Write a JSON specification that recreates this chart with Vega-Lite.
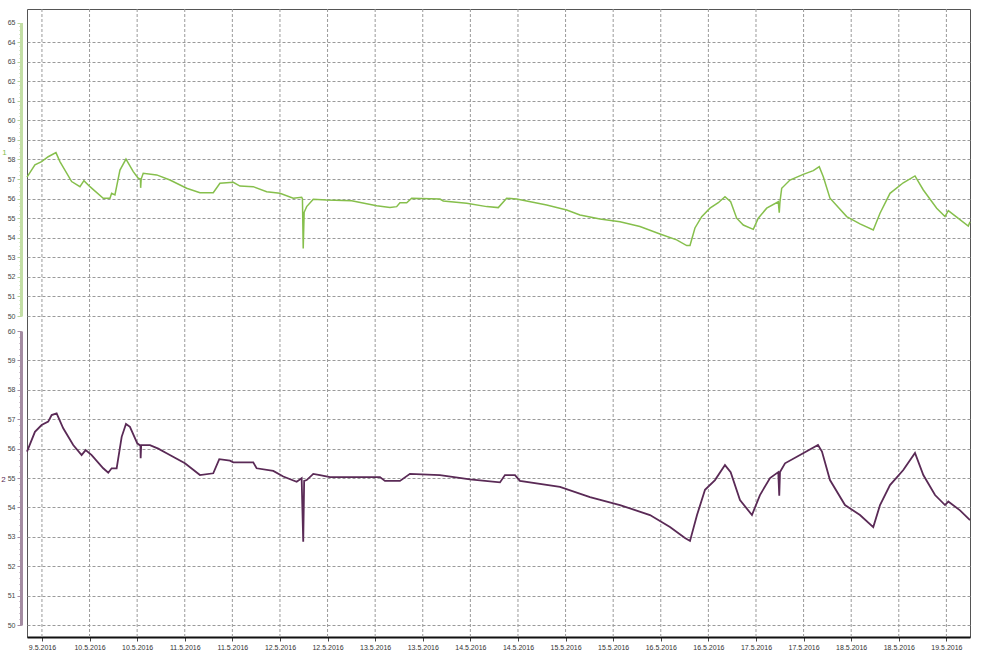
{
  "$schema": "https://vega.github.io/schema/vega-lite/v6.json",
  "width": 943,
  "height": 628,
  "autosize": {"type": "none"},
  "padding": {"left": 27, "top": 9, "right": 11, "bottom": 24},
  "background": "white",
  "config": {
    "view": {"stroke": "#555555", "strokeWidth": 1},
    "font": "Liberation Sans"
  },
  "datasets": {
    "vgrid": [
      {"t": "2016-05-09T12:00:00Z"}, {"t": "2016-05-10T00:00:00Z"}, {"t": "2016-05-10T12:00:00Z"},
      {"t": "2016-05-11T00:00:00Z"}, {"t": "2016-05-11T12:00:00Z"}, {"t": "2016-05-12T00:00:00Z"},
      {"t": "2016-05-12T12:00:00Z"}, {"t": "2016-05-13T00:00:00Z"}, {"t": "2016-05-13T12:00:00Z"},
      {"t": "2016-05-14T00:00:00Z"}, {"t": "2016-05-14T12:00:00Z"}, {"t": "2016-05-15T00:00:00Z"},
      {"t": "2016-05-15T12:00:00Z"}, {"t": "2016-05-16T00:00:00Z"}, {"t": "2016-05-16T12:00:00Z"},
      {"t": "2016-05-17T00:00:00Z"}, {"t": "2016-05-17T12:00:00Z"}, {"t": "2016-05-18T00:00:00Z"},
      {"t": "2016-05-18T12:00:00Z"}, {"t": "2016-05-19T00:00:00Z"}
    ],
    "top": [
      {"t": "2016-05-09T08:14:00Z", "v": 57.1},
      {"t": "2016-05-09T10:14:00Z", "v": 57.72},
      {"t": "2016-05-09T11:55:00Z", "v": 57.89},
      {"t": "2016-05-09T13:35:00Z", "v": 58.14},
      {"t": "2016-05-09T15:32:00Z", "v": 58.35},
      {"t": "2016-05-09T16:32:00Z", "v": 57.89},
      {"t": "2016-05-09T19:29:00Z", "v": 56.87},
      {"t": "2016-05-09T21:35:00Z", "v": 56.61},
      {"t": "2016-05-09T22:35:00Z", "v": 56.92},
      {"t": "2016-05-10T00:06:00Z", "v": 56.61},
      {"t": "2016-05-10T03:27:00Z", "v": 56.02},
      {"t": "2016-05-10T05:09:00Z", "v": 56.02},
      {"t": "2016-05-10T05:34:00Z", "v": 56.27},
      {"t": "2016-05-10T06:24:00Z", "v": 56.19},
      {"t": "2016-05-10T07:40:00Z", "v": 57.46},
      {"t": "2016-05-10T09:11:00Z", "v": 58.02},
      {"t": "2016-05-10T11:01:00Z", "v": 57.38},
      {"t": "2016-05-10T12:17:00Z", "v": 57.04},
      {"t": "2016-05-10T12:50:00Z", "v": 57.0},
      {"t": "2016-05-10T12:53:00Z", "v": 56.55},
      {"t": "2016-05-10T13:01:00Z", "v": 57.0},
      {"t": "2016-05-10T13:32:00Z", "v": 57.29},
      {"t": "2016-05-10T16:55:00Z", "v": 57.21},
      {"t": "2016-05-10T20:16:00Z", "v": 56.95},
      {"t": "2016-05-11T00:29:00Z", "v": 56.53},
      {"t": "2016-05-11T03:50:00Z", "v": 56.3},
      {"t": "2016-05-11T07:11:00Z", "v": 56.3},
      {"t": "2016-05-11T08:52:00Z", "v": 56.78},
      {"t": "2016-05-11T12:14:00Z", "v": 56.83},
      {"t": "2016-05-11T13:55:00Z", "v": 56.64},
      {"t": "2016-05-11T17:16:00Z", "v": 56.61},
      {"t": "2016-05-11T20:39:00Z", "v": 56.35},
      {"t": "2016-05-12T00:00:00Z", "v": 56.27},
      {"t": "2016-05-12T03:21:00Z", "v": 56.02},
      {"t": "2016-05-12T05:28:00Z", "v": 56.07},
      {"t": "2016-05-12T05:40:00Z", "v": 56.0},
      {"t": "2016-05-12T05:52:00Z", "v": 53.45},
      {"t": "2016-05-12T06:06:00Z", "v": 55.3},
      {"t": "2016-05-12T06:44:00Z", "v": 55.59},
      {"t": "2016-05-12T08:24:00Z", "v": 55.97},
      {"t": "2016-05-12T11:46:00Z", "v": 55.93},
      {"t": "2016-05-12T18:04:00Z", "v": 55.89},
      {"t": "2016-05-13T00:23:00Z", "v": 55.64},
      {"t": "2016-05-13T03:44:00Z", "v": 55.54},
      {"t": "2016-05-13T05:25:00Z", "v": 55.59},
      {"t": "2016-05-13T06:15:00Z", "v": 55.79},
      {"t": "2016-05-13T07:57:00Z", "v": 55.79},
      {"t": "2016-05-13T09:12:00Z", "v": 56.02},
      {"t": "2016-05-13T16:20:00Z", "v": 55.98},
      {"t": "2016-05-13T17:10:00Z", "v": 55.88},
      {"t": "2016-05-13T23:04:00Z", "v": 55.76},
      {"t": "2016-05-14T04:07:00Z", "v": 55.59},
      {"t": "2016-05-14T07:02:00Z", "v": 55.54},
      {"t": "2016-05-14T09:09:00Z", "v": 56.02},
      {"t": "2016-05-14T11:40:00Z", "v": 55.98},
      {"t": "2016-05-14T14:12:00Z", "v": 55.88},
      {"t": "2016-05-14T19:14:00Z", "v": 55.67},
      {"t": "2016-05-15T00:17:00Z", "v": 55.42},
      {"t": "2016-05-15T03:38:00Z", "v": 55.16},
      {"t": "2016-05-15T08:40:00Z", "v": 54.96},
      {"t": "2016-05-15T13:43:00Z", "v": 54.82},
      {"t": "2016-05-15T18:45:00Z", "v": 54.57},
      {"t": "2016-05-15T23:48:00Z", "v": 54.19},
      {"t": "2016-05-16T04:00:00Z", "v": 53.89},
      {"t": "2016-05-16T06:32:00Z", "v": 53.6},
      {"t": "2016-05-16T07:22:00Z", "v": 53.6},
      {"t": "2016-05-16T08:37:00Z", "v": 54.5},
      {"t": "2016-05-16T10:19:00Z", "v": 55.08},
      {"t": "2016-05-16T12:24:00Z", "v": 55.51},
      {"t": "2016-05-16T14:30:00Z", "v": 55.79},
      {"t": "2016-05-16T16:11:00Z", "v": 56.1},
      {"t": "2016-05-16T17:37:00Z", "v": 55.84},
      {"t": "2016-05-16T19:08:00Z", "v": 55.0},
      {"t": "2016-05-16T20:48:00Z", "v": 54.65},
      {"t": "2016-05-16T23:19:00Z", "v": 54.43},
      {"t": "2016-05-17T00:35:00Z", "v": 55.0},
      {"t": "2016-05-17T02:42:00Z", "v": 55.51},
      {"t": "2016-05-17T05:37:00Z", "v": 55.84},
      {"t": "2016-05-17T05:52:00Z", "v": 55.28},
      {"t": "2016-05-17T06:03:00Z", "v": 55.85},
      {"t": "2016-05-17T06:29:00Z", "v": 56.53},
      {"t": "2016-05-17T08:34:00Z", "v": 56.95},
      {"t": "2016-05-17T11:55:00Z", "v": 57.24},
      {"t": "2016-05-17T14:27:00Z", "v": 57.43},
      {"t": "2016-05-17T15:57:00Z", "v": 57.63},
      {"t": "2016-05-17T16:58:00Z", "v": 57.12},
      {"t": "2016-05-17T18:39:00Z", "v": 56.02},
      {"t": "2016-05-17T22:52:00Z", "v": 55.08},
      {"t": "2016-05-18T02:13:00Z", "v": 54.71},
      {"t": "2016-05-18T05:34:00Z", "v": 54.4},
      {"t": "2016-05-18T07:16:00Z", "v": 55.25},
      {"t": "2016-05-18T09:47:00Z", "v": 56.27},
      {"t": "2016-05-18T13:08:00Z", "v": 56.81},
      {"t": "2016-05-18T16:05:00Z", "v": 57.16},
      {"t": "2016-05-18T18:11:00Z", "v": 56.44},
      {"t": "2016-05-18T21:33:00Z", "v": 55.51},
      {"t": "2016-05-18T23:39:00Z", "v": 55.08},
      {"t": "2016-05-19T00:29:00Z", "v": 55.38},
      {"t": "2016-05-19T02:36:00Z", "v": 55.05},
      {"t": "2016-05-19T05:31:00Z", "v": 54.6},
      {"t": "2016-05-19T05:57:00Z", "v": 54.82}
    ],
    "bottom": [
      {"t": "2016-05-09T08:14:00Z", "v": 55.9},
      {"t": "2016-05-09T10:14:00Z", "v": 56.57},
      {"t": "2016-05-09T11:55:00Z", "v": 56.8},
      {"t": "2016-05-09T13:35:00Z", "v": 56.92},
      {"t": "2016-05-09T14:27:00Z", "v": 57.14},
      {"t": "2016-05-09T15:42:00Z", "v": 57.2},
      {"t": "2016-05-09T17:22:00Z", "v": 56.69},
      {"t": "2016-05-09T19:53:00Z", "v": 56.12},
      {"t": "2016-05-09T22:00:00Z", "v": 55.78},
      {"t": "2016-05-09T23:01:00Z", "v": 55.95},
      {"t": "2016-05-10T00:32:00Z", "v": 55.78},
      {"t": "2016-05-10T03:27:00Z", "v": 55.33},
      {"t": "2016-05-10T04:43:00Z", "v": 55.18},
      {"t": "2016-05-10T05:34:00Z", "v": 55.33},
      {"t": "2016-05-10T06:50:00Z", "v": 55.33},
      {"t": "2016-05-10T08:06:00Z", "v": 56.4},
      {"t": "2016-05-10T09:11:00Z", "v": 56.84},
      {"t": "2016-05-10T10:11:00Z", "v": 56.74},
      {"t": "2016-05-10T12:02:00Z", "v": 56.18},
      {"t": "2016-05-10T12:50:00Z", "v": 56.1},
      {"t": "2016-05-10T12:53:00Z", "v": 55.67},
      {"t": "2016-05-10T13:01:00Z", "v": 56.12},
      {"t": "2016-05-10T15:14:00Z", "v": 56.12},
      {"t": "2016-05-10T17:19:00Z", "v": 56.0},
      {"t": "2016-05-10T19:26:00Z", "v": 55.84},
      {"t": "2016-05-11T00:03:00Z", "v": 55.5},
      {"t": "2016-05-11T03:50:00Z", "v": 55.1},
      {"t": "2016-05-11T07:11:00Z", "v": 55.16},
      {"t": "2016-05-11T08:42:00Z", "v": 55.64},
      {"t": "2016-05-11T11:24:00Z", "v": 55.59},
      {"t": "2016-05-11T12:14:00Z", "v": 55.53},
      {"t": "2016-05-11T17:16:00Z", "v": 55.53},
      {"t": "2016-05-11T18:07:00Z", "v": 55.33},
      {"t": "2016-05-11T22:19:00Z", "v": 55.24},
      {"t": "2016-05-12T00:50:00Z", "v": 55.05},
      {"t": "2016-05-12T04:13:00Z", "v": 54.87},
      {"t": "2016-05-12T05:28:00Z", "v": 54.99},
      {"t": "2016-05-12T05:52:00Z", "v": 52.83},
      {"t": "2016-05-12T06:06:00Z", "v": 54.9},
      {"t": "2016-05-12T06:44:00Z", "v": 54.93},
      {"t": "2016-05-12T08:24:00Z", "v": 55.14},
      {"t": "2016-05-12T10:05:00Z", "v": 55.1},
      {"t": "2016-05-12T12:36:00Z", "v": 55.03},
      {"t": "2016-05-13T01:13:00Z", "v": 55.03},
      {"t": "2016-05-13T02:28:00Z", "v": 54.9},
      {"t": "2016-05-13T06:15:00Z", "v": 54.9},
      {"t": "2016-05-13T08:46:00Z", "v": 55.14},
      {"t": "2016-05-13T16:20:00Z", "v": 55.1},
      {"t": "2016-05-13T23:54:00Z", "v": 54.95},
      {"t": "2016-05-14T07:28:00Z", "v": 54.85},
      {"t": "2016-05-14T08:43:00Z", "v": 55.1},
      {"t": "2016-05-14T11:15:00Z", "v": 55.1},
      {"t": "2016-05-14T12:30:00Z", "v": 54.9},
      {"t": "2016-05-14T22:35:00Z", "v": 54.7},
      {"t": "2016-05-15T06:09:00Z", "v": 54.35},
      {"t": "2016-05-15T13:43:00Z", "v": 54.08},
      {"t": "2016-05-15T21:17:00Z", "v": 53.74},
      {"t": "2016-05-16T02:19:00Z", "v": 53.33},
      {"t": "2016-05-16T06:06:00Z", "v": 52.96},
      {"t": "2016-05-16T07:22:00Z", "v": 52.86},
      {"t": "2016-05-16T09:08:00Z", "v": 53.74},
      {"t": "2016-05-16T11:09:00Z", "v": 54.6},
      {"t": "2016-05-16T13:40:00Z", "v": 54.93},
      {"t": "2016-05-16T16:11:00Z", "v": 55.44},
      {"t": "2016-05-16T17:37:00Z", "v": 55.2},
      {"t": "2016-05-16T19:58:00Z", "v": 54.25},
      {"t": "2016-05-16T22:59:00Z", "v": 53.74},
      {"t": "2016-05-17T01:00:00Z", "v": 54.42},
      {"t": "2016-05-17T03:32:00Z", "v": 55.0},
      {"t": "2016-05-17T05:37:00Z", "v": 55.2},
      {"t": "2016-05-17T05:52:00Z", "v": 54.4},
      {"t": "2016-05-17T06:03:00Z", "v": 55.2},
      {"t": "2016-05-17T07:19:00Z", "v": 55.5},
      {"t": "2016-05-17T11:06:00Z", "v": 55.78},
      {"t": "2016-05-17T15:38:00Z", "v": 56.12},
      {"t": "2016-05-17T16:38:00Z", "v": 55.9},
      {"t": "2016-05-17T18:39:00Z", "v": 54.93},
      {"t": "2016-05-17T22:26:00Z", "v": 54.08},
      {"t": "2016-05-18T02:13:00Z", "v": 53.74},
      {"t": "2016-05-18T05:34:00Z", "v": 53.33},
      {"t": "2016-05-18T07:16:00Z", "v": 54.08},
      {"t": "2016-05-18T09:47:00Z", "v": 54.76},
      {"t": "2016-05-18T13:08:00Z", "v": 55.27},
      {"t": "2016-05-18T16:05:00Z", "v": 55.85},
      {"t": "2016-05-18T18:11:00Z", "v": 55.1},
      {"t": "2016-05-18T21:08:00Z", "v": 54.42},
      {"t": "2016-05-18T23:39:00Z", "v": 54.08},
      {"t": "2016-05-19T00:29:00Z", "v": 54.2},
      {"t": "2016-05-19T03:26:00Z", "v": 53.9},
      {"t": "2016-05-19T05:57:00Z", "v": 53.57}
    ]
  },
  "layer": [
    {
      "data": {"name": "vgrid"},
      "mark": {"type": "rule", "color": "#9a9a9a", "strokeDash": [3, 2], "strokeWidth": 1},
      "encoding": {
        "x": {"field": "t", "type": "temporal", "scale": {"type": "utc"},
          "axis": {"orient": "bottom", "title": null, "format": "%-d.%-m.%Y", "grid": false,
            "domainColor": "#111111", "domainWidth": 2, "tickColor": "#444444", "tickSize": 4,
            "labelFontSize": 7, "labelColor": "#333333", "labelPadding": 2}}
      }
    },
    {
      "data": {"name": "top"},
      "mark": {"type": "line", "opacity": 0},
      "encoding": {
        "x": {"field": "t", "type": "temporal", "scale": {"type": "utc"},
          "axis": {"orient": "bottom", "title": null, "format": "%-d.%-m.%Y", "grid": false,
            "domainColor": "#111111", "domainWidth": 2, "tickColor": "#444444", "tickSize": 4,
            "labelFontSize": 7, "labelColor": "#333333", "labelPadding": 2}},
        "y": {
          "field": "v", "type": "quantitative",
          "scale": {"domain": [50, 65], "range": [307, 13.5], "nice": false, "zero": false},
          "axis": {
            "orient": "left", "offset": 6,
            "values": [50, 51, 52, 53, 54, 55, 56, 57, 58, 59, 60, 61, 62, 63, 64],
            "labels": false, "ticks": false, "domain": false, "title": null,
            "grid": true, "gridColor": "#9a9a9a", "gridDash": [3, 2]
          }
        }
      }
    },
    {
      "data": {"name": "bottom"},
      "mark": {"type": "line", "opacity": 0},
      "encoding": {
        "x": {"field": "t", "type": "temporal", "scale": {"type": "utc"},
          "axis": {"orient": "bottom", "title": null, "format": "%-d.%-m.%Y", "grid": false,
            "domainColor": "#111111", "domainWidth": 2, "tickColor": "#444444", "tickSize": 4,
            "labelFontSize": 7, "labelColor": "#333333", "labelPadding": 2}},
        "y": {
          "field": "v", "type": "quantitative",
          "scale": {"domain": [50, 60], "range": [616, 322], "nice": false, "zero": false},
          "axis": {
            "orient": "left", "offset": 6,
            "values": [50, 51, 52, 53, 54, 55, 56, 57, 58, 59],
            "labels": false, "ticks": false, "domain": false, "title": null,
            "grid": true, "gridColor": "#9a9a9a", "gridDash": [3, 2]
          }
        }
      }
    },
    {
      "data": {"name": "top"},
      "mark": {"type": "line", "opacity": 0},
      "encoding": {
        "x": {"field": "t", "type": "temporal", "scale": {"type": "utc"},
          "axis": {"orient": "bottom", "title": null, "format": "%-d.%-m.%Y", "grid": false,
            "domainColor": "#111111", "domainWidth": 2, "tickColor": "#444444", "tickSize": 4,
            "labelFontSize": 7, "labelColor": "#333333", "labelPadding": 2}},
        "y": {
          "field": "v", "type": "quantitative",
          "scale": {"domain": [50, 65], "range": [307, 13.5], "nice": false, "zero": false},
          "axis": {
            "orient": "left", "offset": 6, "tickCount": 75,
            "labels": false, "grid": false, "domain": false, "title": null,
            "tickColor": "#b5d496", "tickSize": 2
          }
        }
      }
    },
    {
      "data": {"name": "bottom"},
      "mark": {"type": "line", "opacity": 0},
      "encoding": {
        "x": {"field": "t", "type": "temporal", "scale": {"type": "utc"},
          "axis": {"orient": "bottom", "title": null, "format": "%-d.%-m.%Y", "grid": false,
            "domainColor": "#111111", "domainWidth": 2, "tickColor": "#444444", "tickSize": 4,
            "labelFontSize": 7, "labelColor": "#333333", "labelPadding": 2}},
        "y": {
          "field": "v", "type": "quantitative",
          "scale": {"domain": [50, 60], "range": [616, 322], "nice": false, "zero": false},
          "axis": {
            "orient": "left", "offset": 6, "tickCount": 50,
            "labels": false, "grid": false, "domain": false, "title": null,
            "tickColor": "#a48ca2", "tickSize": 2
          }
        }
      }
    },
    {
      "data": {"name": "top"},
      "mark": {"type": "line", "color": "#86bf4c", "strokeWidth": 1.5},
      "encoding": {
        "x": {"field": "t", "type": "temporal", "scale": {"type": "utc"},
          "axis": {"orient": "bottom", "title": null, "format": "%-d.%-m.%Y", "grid": false,
            "domainColor": "#111111", "domainWidth": 2, "tickColor": "#444444", "tickSize": 4,
            "labelFontSize": 7, "labelColor": "#333333", "labelPadding": 2}},
        "y": {
          "field": "v", "type": "quantitative",
          "scale": {"domain": [50, 65], "range": [307, 13.5], "nice": false, "zero": false},
          "axis": {
            "orient": "left", "offset": 6,
            "values": [50, 51, 52, 53, 54, 55, 56, 57, 58, 59, 60, 61, 62, 63, 64, 65],
            "domainColor": "#c3dea5", "domainWidth": 3,
            "tickColor": "#b5d496", "tickSize": 4,
            "labelFontSize": 7, "labelColor": "#444444", "labelPadding": 2,
            "grid": false,
            "title": "1", "titleColor": "#86bf4c", "titleAngle": 0,
            "titleFontSize": 8, "titleFontWeight": "normal",
            "titleX": -17, "titleY": 143, "titleAlign": "center", "titleBaseline": "middle"
          }
        }
      }
    },
    {
      "data": {"name": "bottom"},
      "mark": {"type": "line", "color": "#5a2a56", "strokeWidth": 1.8},
      "encoding": {
        "x": {"field": "t", "type": "temporal", "scale": {"type": "utc"},
          "axis": {"orient": "bottom", "title": null, "format": "%-d.%-m.%Y", "grid": false,
            "domainColor": "#111111", "domainWidth": 2, "tickColor": "#444444", "tickSize": 4,
            "labelFontSize": 7, "labelColor": "#333333", "labelPadding": 2}},
        "y": {
          "field": "v", "type": "quantitative",
          "scale": {"domain": [50, 60], "range": [616, 322], "nice": false, "zero": false},
          "axis": {
            "orient": "left", "offset": 6,
            "values": [50, 51, 52, 53, 54, 55, 56, 57, 58, 59, 60],
            "domainColor": "#a48ca2", "domainWidth": 3,
            "tickColor": "#a48ca2", "tickSize": 4,
            "labelFontSize": 7, "labelColor": "#444444", "labelPadding": 2,
            "grid": false,
            "title": "2", "titleColor": "#5a2a56", "titleAngle": 0,
            "titleFontSize": 8, "titleFontWeight": "normal",
            "titleX": -18, "titleY": 470, "titleAlign": "center", "titleBaseline": "middle"
          }
        }
      }
    }
  ],
  "resolve": {
    "scale": {"y": "independent"},
    "axis": {"y": "independent"}
  }
}
